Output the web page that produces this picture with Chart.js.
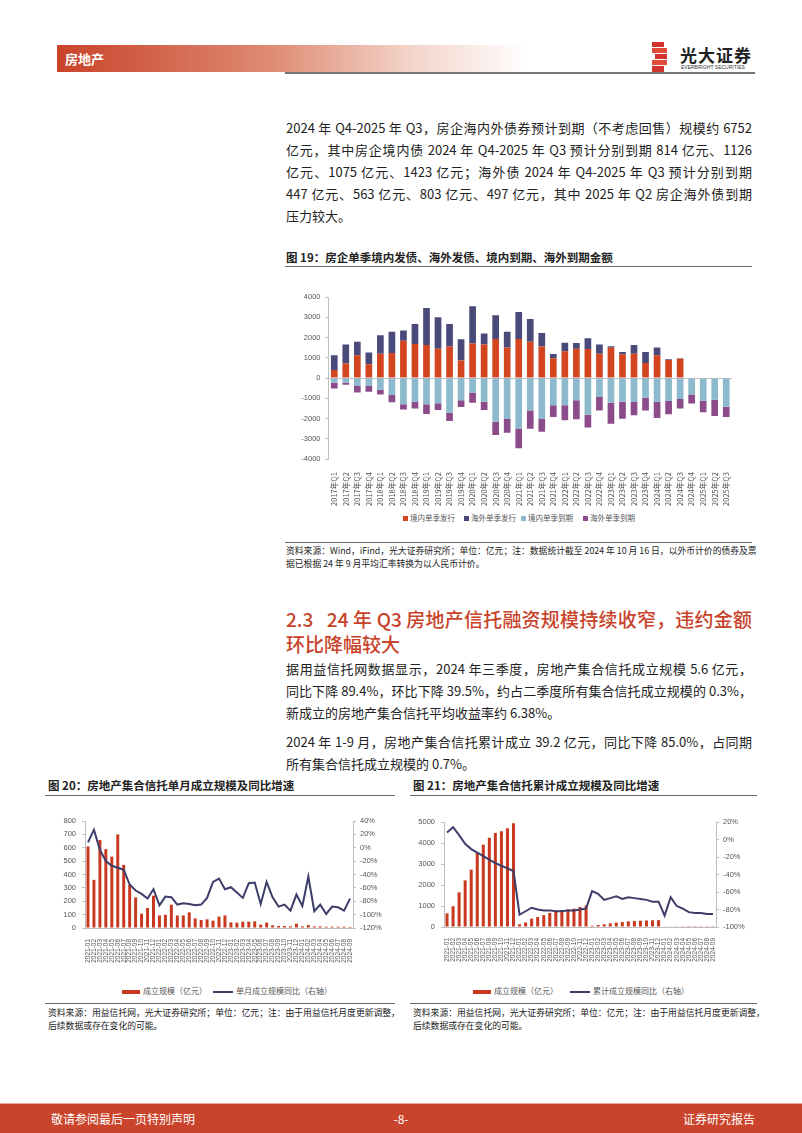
<!DOCTYPE html>
<html>
<head>
<meta charset="utf-8">
<script src="https://cdn.jsdelivr.net/npm/chart.js@4.4.0/dist/chart.umd.min.js"></script>
<style>
  html, body { margin: 0; padding: 0; background: #fff; }
  #page { position: relative; width: 802px; height: 1133px; overflow: hidden; font-family: "Noto Sans CJK SC", "Noto Sans", sans-serif; color: #222; }
  .abs { position: absolute; }
  .line { position: absolute; white-space: nowrap; }
  .just { text-align: justify; text-align-last: justify; }
  .body { font-size: 13px; line-height: 22px; height: 22px; left: 286px; width: 466px; }
  .figtitle { font-size: 11.5px; font-weight: bold; color: #222; }
  .src { font-size: 8.8px; line-height: 11px; color: #222; }
  .rule { position: absolute; height: 1px; background: #555; }
  .lg { position: absolute; font-size: 7.5px; color: #555; white-space: nowrap; }
  .sw { display: inline-block; vertical-align: middle; margin-right: 2px; }
</style>
</head>
<body>
<div id="page">
  <!-- header -->
  <div class="abs" style="left:57px;top:45px;width:470px;height:27px;background:linear-gradient(to right,#c9432a 0%,#de8a72 45%,#f3d3c9 75%,#ffffff 100%);"></div>
  <div class="abs" style="left:65px;top:49px;font-size:13px;font-weight:bold;color:#fff;">房地产</div>
  <div class="abs" style="left:285px;top:72px;width:470px;height:2px;background:#777;"></div>
  <div class="abs" style="left:652px;top:42px;width:16px;height:30px;">
    <div class="abs" style="left:0;top:0;width:12px;height:5px;background:#d0342c;"></div>
    <div class="abs" style="left:0;top:6px;width:15px;height:5px;background:#e04b3a;"></div>
    <div class="abs" style="left:3px;top:12px;width:12px;height:5px;background:#d0342c;"></div>
    <div class="abs" style="left:0;top:18px;width:15px;height:5px;background:#e04b3a;"></div>
    <div class="abs" style="left:0;top:24px;width:12px;height:6px;background:#d0342c;"></div>
  </div>
  <div class="abs" style="left:680px;top:42px;font-size:17px;font-weight:bold;color:#222;letter-spacing:1px;">光大证券</div>
  <div class="abs" style="left:681px;top:64px;font-size:5px;color:#333;font-family:'Liberation Sans';white-space:nowrap;">EVERBRIGHT SECURITIES</div>

  <!-- paragraph 1 -->
  <div class="line body just" style="top:117px;">2024 年 Q4-2025 年 Q3，房企海内外债券预计到期（不考虑回售）规模约 6752</div>
  <div class="line body just" style="top:139px;">亿元，其中房企境内债 2024 年 Q4-2025 年 Q3 预计分别到期 814 亿元、1126</div>
  <div class="line body just" style="top:161px;">亿元、1075 亿元、1423 亿元；海外债 2024 年 Q4-2025 年 Q3 预计分别到期</div>
  <div class="line body just" style="top:183px;">447 亿元、563 亿元、803 亿元、497 亿元，其中 2025 年 Q2 房企海外债到期</div>
  <div class="line body" style="top:205px;">压力较大。</div>

  <!-- figure 19 -->
  <div class="abs figtitle" style="left:286px;top:249px;">图 19：房企单季境内发债、海外发债、境内到期、海外到期金额</div>
  <div class="rule" style="left:285px;top:266px;width:467px;background:#666;"></div>
  <div class="abs" style="left:285px;top:287px;width:470px;height:225px;"><canvas id="c19"></canvas></div>
  <div class="lg" style="left:403px;top:512px;"><span class="sw" style="width:5px;height:5px;background:#d2451f;"></span>境内单季发行</div>
  <div class="lg" style="left:464px;top:512px;"><span class="sw" style="width:5px;height:5px;background:#4a4a7a;"></span>海外单季发行</div>
  <div class="lg" style="left:521px;top:512px;"><span class="sw" style="width:5px;height:5px;background:#8cb9cc;"></span>境内单季到期</div>
  <div class="lg" style="left:583px;top:512px;"><span class="sw" style="width:5px;height:5px;background:#8c4c8c;"></span>海外单季到期</div>
  <div class="rule" style="left:285px;top:542px;width:467px;background:#666;"></div>
  <div class="line src just" style="left:286px;top:545px;width:466px;">资料来源：Wind，iFind，光大证券研究所；单位：亿元；注：数据统计截至 2024 年 10 月 16 日，以外币计价的债券及票</div>
  <div class="line src" style="left:286px;top:558px;">据已根据 24 年 9 月平均汇率转换为以人民币计价。</div>

  <!-- section heading -->
  <div class="line just" style="left:286px;top:606px;width:466px;font-size:19px;line-height:26px;color:#c8432a;font-weight:500;">2.3&nbsp;&nbsp;&nbsp;24 年 Q3 房地产信托融资规模持续收窄，违约金额</div>
  <div class="line" style="left:286px;top:631px;font-size:19px;line-height:26px;color:#c8432a;font-weight:500;">环比降幅较大</div>

  <!-- paragraph 2/3 -->
  <div class="line body just" style="top:658px;">据用益信托网数据显示，2024 年三季度，房地产集合信托成立规模 5.6 亿元，</div>
  <div class="line body just" style="top:680px;">同比下降 89.4%，环比下降 39.5%，约占二季度所有集合信托成立规模的 0.3%，</div>
  <div class="line body" style="top:702px;">新成立的房地产集合信托平均收益率约 6.38%。</div>
  <div class="line body just" style="top:731px;">2024 年 1-9 月，房地产集合信托累计成立 39.2 亿元，同比下降 85.0%，占同期</div>
  <div class="line body" style="top:753px;">所有集合信托成立规模的 0.7%。</div>

  <!-- figure 20 / 21 titles -->
  <div class="abs figtitle" style="left:48px;top:777px;">图 20：房地产集合信托单月成立规模及同比增速</div>
  <div class="abs figtitle" style="left:413px;top:777px;">图 21：房地产集合信托累计成立规模及同比增速</div>
  <div class="rule" style="left:45px;top:795px;width:350px;background:#666;"></div>
  <div class="rule" style="left:410px;top:795px;width:347px;background:#666;"></div>

  <div class="abs" style="left:44px;top:810px;width:356px;height:160px;"><canvas id="c20"></canvas></div>
  <div class="abs" style="left:405px;top:810px;width:360px;height:160px;"><canvas id="c21"></canvas></div>

  <div class="lg" style="left:122px;top:985px;font-size:8px;"><span class="sw" style="width:18px;height:4px;background:#c9391f;margin-right:3px;"></span>成立规模（亿元）</div>
  <div class="lg" style="left:213px;top:985px;font-size:8px;"><span class="sw" style="width:20px;height:2px;background:#3d3d6b;margin-right:3px;"></span>单月成立规模同比（右轴）</div>
  <div class="lg" style="left:473px;top:985px;font-size:8px;"><span class="sw" style="width:18px;height:4px;background:#c9391f;margin-right:3px;"></span>成立规模（亿元）</div>
  <div class="lg" style="left:570px;top:985px;font-size:8px;"><span class="sw" style="width:20px;height:2px;background:#3d3d6b;margin-right:3px;"></span>累计成立规模同比（右轴）</div>

  <div class="rule" style="left:45px;top:1003px;width:350px;background:#666;"></div>
  <div class="rule" style="left:410px;top:1003px;width:347px;background:#666;"></div>
  <div class="line src just" style="left:48px;top:1006.5px;width:344px;">资料来源：用益信托网，光大证券研究所；单位：亿元；注：由于用益信托月度更新调整，</div>
  <div class="line src" style="left:48px;top:1019.5px;">后续数据或存在变化的可能。</div>
  <div class="line src just" style="left:413px;top:1006.5px;width:344px;">资料来源：用益信托网，光大证券研究所；单位：亿元；注：由于用益信托月度更新调整，</div>
  <div class="line src" style="left:413px;top:1019.5px;">后续数据或存在变化的可能。</div>

  <!-- footer -->
  <div class="abs" style="left:0;top:1103px;width:802px;height:30px;background:#c9442b;border-top:1px solid #e9a898;"></div>
  <div class="abs" style="left:51px;top:1110px;font-size:12px;color:#fff;">敬请参阅最后一页特别声明</div>
  <div class="abs" style="left:390px;top:1110px;width:22px;text-align:center;font-size:12px;color:#fff;">-8-</div>
  <div class="abs" style="left:683px;top:1110px;font-size:12px;color:#fff;">证券研究报告</div>
</div>

<script>
// 图19 房企单季境内发债、海外发债、境内到期、海外到期（亿元）
const quarterLabels = ['2017年Q1','2017年Q2','2017年Q3','2017年Q4','2018年Q1','2018年Q2','2018年Q3','2018年Q4',
  '2019年Q1','2019年Q2','2019年Q3','2019年Q4','2020年Q1','2020年Q2','2020年Q3','2020年Q4',
  '2021年Q1','2021年Q2','2021年Q3','2021年Q4','2022年Q1','2022年Q2','2022年Q3','2022年Q4',
  '2023年Q1','2023年Q2','2023年Q3','2023年Q4','2024年Q1','2024年Q2','2024年Q3','2024年Q4',
  '2025年Q1','2025年Q2','2025年Q3'];
const domesticIssue = [400,720,1120,680,1200,1230,1840,1680,1630,1450,1560,860,1700,1650,1930,1510,
  1930,1790,1550,970,1320,1450,1430,1200,1500,1170,1200,740,1120,890,950,null,null,null,null];
const overseasIssue = [720,930,670,580,910,1050,510,990,1830,1550,1110,1050,1840,550,1170,780,
  1330,1120,670,220,420,280,530,450,70,110,430,540,390,30,20,null,null,null,null];
const domesticMature = [-230,-230,-400,-400,-580,-840,-1300,-1170,-1300,-1250,-1710,-1100,-720,-1170,-2160,-2020,
  -2490,-1600,-2020,-1350,-1350,-1100,-1810,-940,-1220,-1170,-1190,-970,-1170,-1140,-1040,-814,-1126,-1075,-1423];
const overseasMature = [-290,-100,-320,-280,-240,-360,-250,-330,-480,-330,-410,-330,-500,-410,-650,-680,
  -980,-900,-630,-580,-740,-940,-640,-670,-1040,-840,-650,-630,-810,-650,-470,-447,-563,-803,-497];

// 图20/21 月度
const monthLabels = ['2021-01','2021-02','2021-03','2021-04','2021-05','2021-06','2021-07','2021-08','2021-09','2021-10','2021-11','2021-12',
  '2022-01','2022-02','2022-03','2022-04','2022-05','2022-06','2022-07','2022-08','2022-09','2022-10','2022-11','2022-12',
  '2023-01','2023-02','2023-03','2023-04','2023-05','2023-06','2023-07','2023-08','2023-09','2023-10','2023-11','2023-12',
  '2024-01','2024-02','2024-03','2024-04','2024-05','2024-06','2024-07','2024-08','2024-09'];
const monthlyScale = [610,360,658,590,534,700,472,323,229,107,150,242,
  94,99,174,94,94,117,72,60,65,55,85,94,
  42,40,47,47,50,25,40,20,15,15,12,32,
  12,22,12,12,10,10,10,10,8];
const monthlyYoY = [8,27,-3,-20,-27,-30,-33,-55,-64,-69,-76,-62,
  -86,-73,-74,-85,-83,-84,-86,-85,-75,-51,-46,-62,
  -59,-67,-75,-53,-52,-84,-51,-74,-88,-85,-94,-70,
  -87,-43,-95,-85,-99,-88,-89,-94,-76];
const cumScale = [650,990,1650,2220,2730,3520,3920,4250,4480,4560,4700,4940,
  130,220,400,480,560,670,750,800,840,870,950,1020,
  60,100,130,175,210,240,270,290,300,310,320,330,
  20,30,35,40,40,40,40,40,40];
const cumYoY = [8,14,5,-5,-11,-15,-19,-23,-27,-30,-33,-36,
  -86,-82,-78,-80,-81,-81,-82,-82,-81,-81,-80,-79,
  -59,-62,-69,-67,-65,-68,-66,-67,-68,-69,-71,-71,
  -87,-66,-76,-79,-83,-84,-84,-85,-85];

const RED = '#d2451f';
const NAVY = '#4a4a7a';
const LBLUE = '#8cb9cc';
const PURPLE = '#8c4c8c';
const BAR_RED = '#c9391f';
const LINE_NAVY = '#3d3d6b';
const AXIS = '#bfbfbf';
const TICK_TXT = '#555';
const tickFont = { family: 'Liberation Sans', size: 7.5 };

Chart.defaults.animation = false;

new Chart(document.getElementById('c19'), {
  type: 'bar',
  data: {
    labels: quarterLabels,
    datasets: [
      { label: '境内单季发行', data: domesticIssue, backgroundColor: RED },
      { label: '海外单季发行', data: overseasIssue, backgroundColor: NAVY },
      { label: '境内单季到期', data: domesticMature, backgroundColor: LBLUE },
      { label: '海外单季到期', data: overseasMature, backgroundColor: PURPLE }
    ]
  },
  options: {
    responsive: true,
    maintainAspectRatio: false,
    layout: { padding: { top: 10, right: 23, left: 0, bottom: 0 } },
    plugins: { legend: { display: false }, tooltip: { enabled: false } },
    datasets: { bar: { barPercentage: 0.58, categoryPercentage: 1 } },
    scales: {
      x: {
        stacked: true,
        grid: { display: false },
        border: { display: false },
        ticks: { autoSkip: false, minRotation: 90, maxRotation: 90, padding: 5, color: TICK_TXT,
                 font: { family: 'Noto Sans CJK SC', size: 7.5 } },
        afterFit: function(scale) { scale.height = 53; }
      },
      y: {
        stacked: true, min: -4000, max: 4000,
        ticks: { stepSize: 1000, color: TICK_TXT, font: tickFont, padding: 5, callback: v => String(v) },
        grid: { color: c => (c.tick && c.tick.value === 0) ? AXIS : 'transparent', tickColor: AXIS, tickLength: 3 },
        border: { color: AXIS },
        afterFit: function(scale) { scale.width = 43.5; }
      }
    }
  }
});

function trustChart(id, bars, line, leftMax, leftStep, rightMin, rightMax, lw, rw, xh, padTop) {
  return new Chart(document.getElementById(id), {
    data: {
      labels: monthLabels,
      datasets: [
        { type: 'line', label: 'yoy', data: line, yAxisID: 'y1', borderColor: LINE_NAVY, borderWidth: 2,
          pointRadius: 0, tension: 0, order: 0 },
        { type: 'bar', label: 'scale', data: bars, yAxisID: 'y', backgroundColor: BAR_RED,
          barPercentage: 0.5, categoryPercentage: 1, order: 1 }
      ]
    },
    options: {
      responsive: true,
      maintainAspectRatio: false,
      layout: { padding: { top: padTop, right: 0, left: 0, bottom: 0 } },
      plugins: { legend: { display: false }, tooltip: { enabled: false } },
      scales: {
        x: {
          grid: { display: false },
          border: { color: AXIS },
          ticks: { autoSkip: false, minRotation: 90, maxRotation: 90, padding: 3, color: TICK_TXT,
                   font: { family: 'Liberation Sans', size: 6.5 } },
          afterFit: function(scale) { scale.height = xh; }
        },
        y: {
          position: 'left', min: 0, max: leftMax,
          ticks: { stepSize: leftStep, color: TICK_TXT, font: tickFont, padding: 6, callback: v => String(v) },
          grid: { drawOnChartArea: false, tickColor: AXIS, tickLength: 3 },
          border: { color: AXIS },
          afterFit: function(scale) { scale.width = lw; }
        },
        y1: {
          position: 'right', min: rightMin, max: rightMax,
          ticks: { stepSize: 20, color: TICK_TXT, font: tickFont, padding: 4, callback: v => v + '%' },
          grid: { drawOnChartArea: false, tickColor: AXIS, tickLength: 3 },
          border: { color: AXIS },
          afterFit: function(scale) { scale.width = rw; }
        }
      }
    }
  });
}

trustChart('c20', monthlyScale, monthlyYoY, 800, 100, -120, 40, 41, 47, 42, 11);
trustChart('c21', cumScale, cumYoY, 5000, 500, -100, 20, 39, 49, 43, 12);
</script>
</body>
</html>
